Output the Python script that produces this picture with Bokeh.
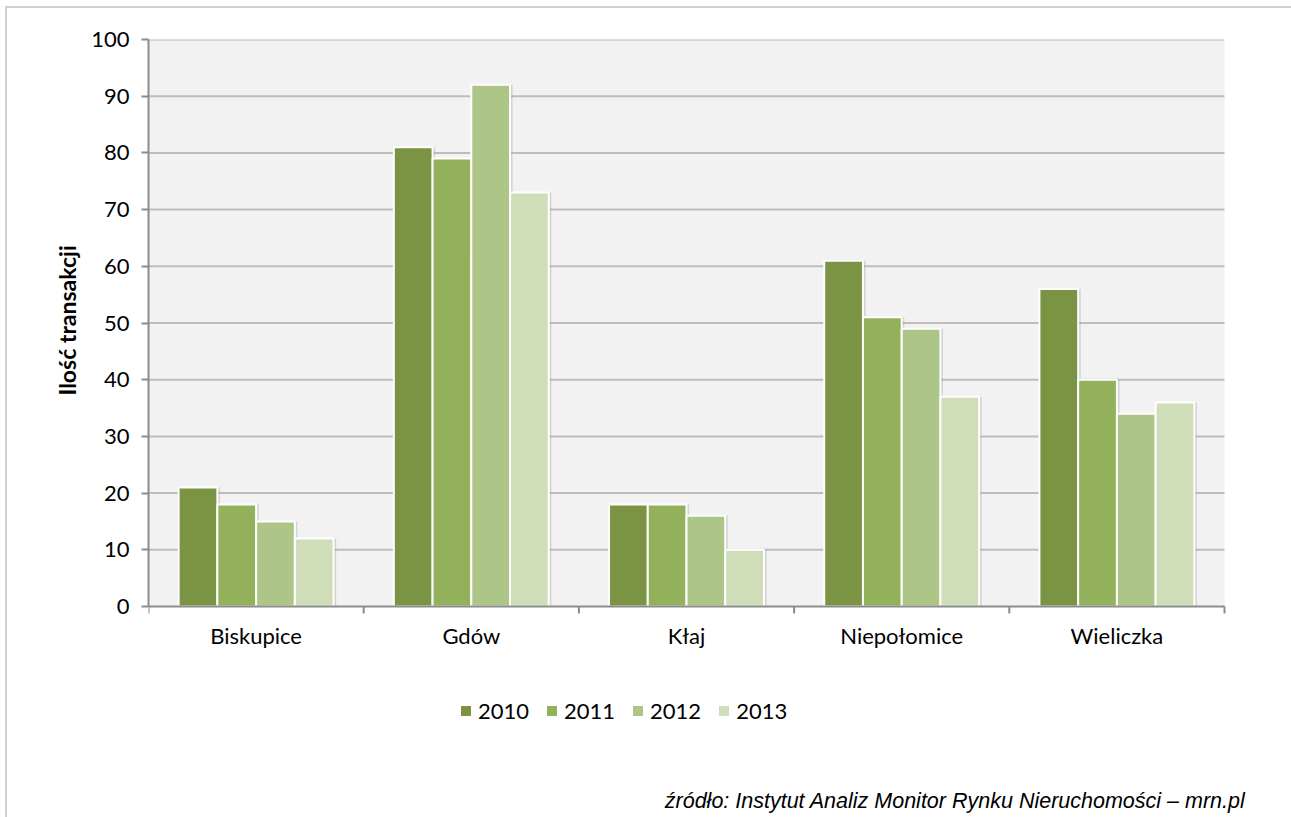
import math
from bokeh.plotting import figure
from bokeh.models import (ColumnDataSource, FixedTicker, Legend, LegendItem, Label,
                          Range1d, BoxAnnotation, Title, InlineStyleSheet)
from bokeh.core.properties import value
from bokeh.embed import file_html
from bokeh.resources import INLINE

categories = ["Biskupice", "Gdów", "Kłaj", "Niepołomice", "Wieliczka"]
years = ["2010", "2011", "2012", "2013"]
v2010 = [21, 81, 18, 61, 56]
v2011 = [18, 79, 18, 51, 40]
v2012 = [15, 92, 16, 49, 34]
v2013 = [12, 73, 10, 37, 36]
series = [v2010, v2011, v2012, v2013]
colors = ["#7A9444", "#93B05A", "#ADC687", "#CFDDB8"]
y_ticks = list(range(0, 101, 10))
y_title = "Ilość transakcji"
source_text = "źródło: Instytut Analiz Monitor Rynku Nieruchomości – mrn.pl"

FONT = "Lato"
W, H = 1291, 817
LEFT, AXIS_RIGHT, TOP, FRAME_RIGHT = 148, 1224, 39, 1266
Y0_PX = 606                      # pixel row of value 0
ncat = len(categories)
px_per_unit_y = (Y0_PX - TOP) / 100.0
px_per_cat = (AXIS_RIGHT - LEFT) / ncat
y_min = -(H - Y0_PX) / px_per_unit_y
x_max = (FRAME_RIGHT - LEFT) / px_per_cat

p = figure(width=W, height=H, output_backend="svg", toolbar_location=None,
           x_range=Range1d(0, x_max), y_range=Range1d(y_min, 100),
           min_border_left=LEFT, min_border_right=W - FRAME_RIGHT, min_border_top=TOP,
           min_border_bottom=0)
p.background_fill_color = "white"
p.border_fill_color = "white"
p.outline_line_color = None
p.xaxis.visible = False
p.xgrid.visible = False
p.ygrid.visible = False

# plot area background
p.add_layout(BoxAnnotation(left=0, right=ncat, bottom=0, top=100, fill_color="#F2F2F2",
                           fill_alpha=1, line_color=None, level="image"))

# horizontal gridlines
grid_y = y_ticks[1:]
p.segment(x0=[0] * len(grid_y), x1=[ncat] * len(grid_y), y0=grid_y, y1=grid_y,
          line_color="#BDBDBD", line_width=2)

bar_w = 0.18
centers = [i + 0.5 for i in range(ncat)]
items = []
for k, (vals, col, yr) in enumerate(zip(series, colors, years)):
    off = (k - 1.5) * bar_w
    src = ColumnDataSource(dict(x=[c + off for c in centers], top=vals))
    sh = ColumnDataSource(dict(x=[c + off + 0.012 for c in centers], top=vals))
    p.vbar(x="x", top="top", width=bar_w, source=sh, fill_color="#9a9a9a",
           fill_alpha=0.35, line_color=None)
    r = p.vbar(x="x", top="top", width=bar_w, source=src, fill_color=col,
               line_color="white", line_width=2)
    items.append(LegendItem(label=yr, renderers=[r]))

# category axis (line, boundary ticks, labels)
p.segment(x0=[0], x1=[ncat], y0=[0], y1=[0], line_color="#8C8C8C", line_width=2)
bounds = list(range(ncat + 1))
p.ray(x=bounds, y=[0] * len(bounds), length=7, length_units="screen",
      angle=-math.pi / 2, line_color="#8C8C8C", line_width=2)
p.text(x=centers, y=[0] * len(centers), text=categories, y_offset=29,
       text_align="center", text_baseline="middle", text_font=value(FONT),
       text_font_size="22px", text_color="black")

# value axis
p.yaxis.ticker = FixedTicker(ticks=y_ticks)
p.yaxis.bounds = (0, 100)
p.yaxis.minor_tick_line_color = None
p.yaxis.major_tick_in = 0
p.yaxis.major_tick_out = 7
p.yaxis.major_tick_line_color = "#8C8C8C"
p.yaxis.major_tick_line_width = 2
p.yaxis.axis_line_color = "#8C8C8C"
p.yaxis.axis_line_width = 2
p.yaxis.major_label_standoff = 12
p.yaxis.major_label_text_font = FONT
p.yaxis.major_label_text_font_size = "22px"
p.yaxis.major_label_text_color = "black"

# y title (beside the value axis, over the 0..100 span)
p.add_layout(Title(text=y_title, align="left", offset=H - 395, standoff=14,
                   vertical_align="middle", text_font=FONT, text_font_style="bold",
                   text_font_size="23px", text_color="black"), "left")

legend = Legend(items=items, orientation="horizontal", location=(458 - LEFT, H - 724),
                border_line_color=None, background_fill_alpha=0,
                glyph_width=15, glyph_height=15, label_standoff=5, spacing=15,
                label_height=24, padding=0, margin=0, label_text_font=FONT,
                label_text_font_size="22px", label_text_color="black")
p.add_layout(legend, "center")

p.add_layout(Label(x=1245 - LEFT, y=H - 800, x_units="screen", y_units="screen",
                   text=source_text, text_font="Liberation Sans",
                   text_font_style="italic", text_font_size="21.5px",
                   text_align="right", text_baseline="middle", text_color="black"))

p.stylesheets = [InlineStyleSheet(css=":host{overflow:hidden;} :host::before{content:'';position:absolute;left:5px;top:6px;width:1400px;height:900px;border-left:2px solid #D0D0D0;border-top:2px solid #D0D0D0;pointer-events:none;z-index:10;}")]

open("out.html", "w").write(file_html(p, INLINE))
